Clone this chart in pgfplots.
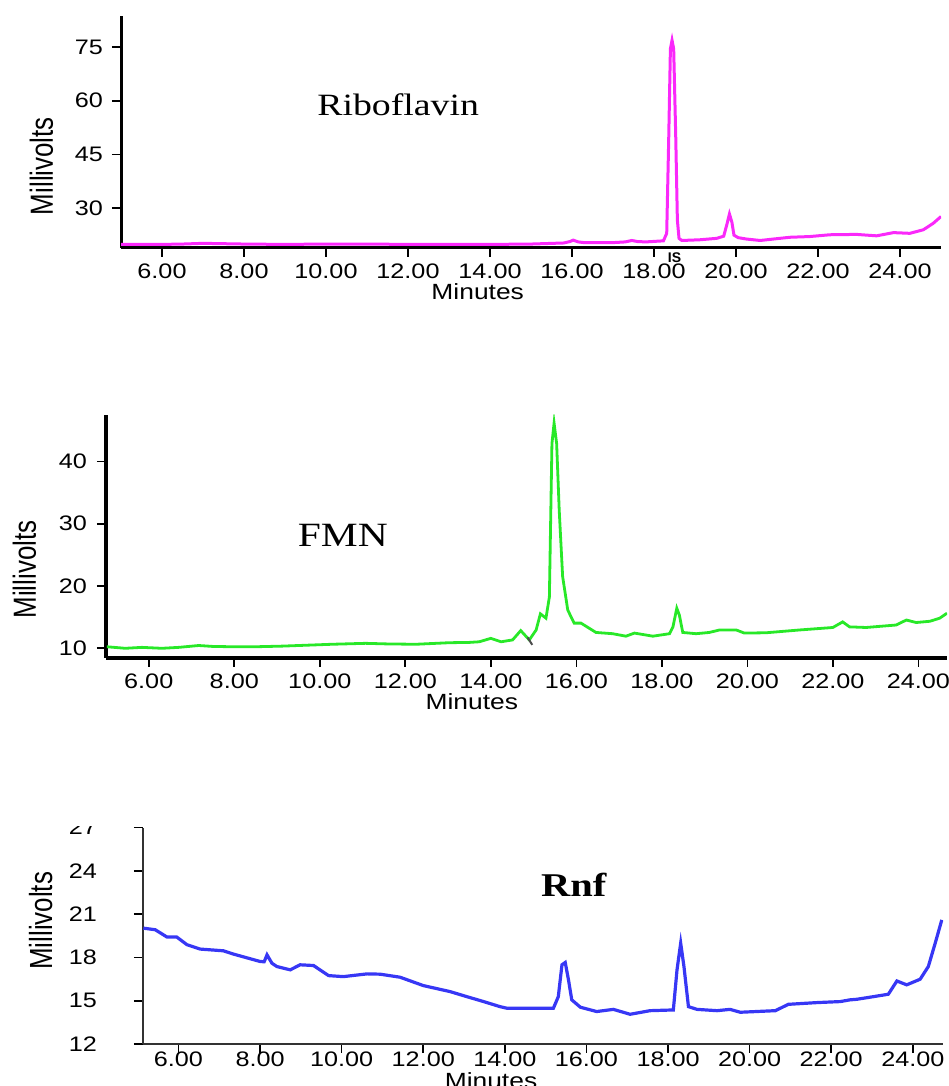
\documentclass[border=0pt]{standalone}
\usepackage{fontspec}
\setmainfont{Liberation Sans}
\newfontfamily\tickfont{Liberation Sans}[FakeStretch=1.2]
\newfontfamily\vlabfont{Liberation Sans}[FakeStretch=0.81]
\newfontfamily\titlefont{Liberation Serif}[FakeStretch=1.22]
\usepackage{pgfplots}
\pgfplotsset{compat=1.18}

\definecolor{ribo}{RGB}{250,40,250}
\definecolor{fmn}{RGB}{40,232,40}
\definecolor{rnf}{RGB}{55,55,245}

% one chromatogram panel: left and bottom axis lines only
\pgfplotsset{
  chrom/.style={
    scale only axis, anchor=south west, clip mode=individual,
    axis x line*=bottom, axis y line*=left,
    axis line style={-, line width=1.5pt, black},
    tick align=outside, major tick length=4.5pt,
    every tick/.style={black, line width=0.8pt},
    xtick={6,8,...,24},
    /pgf/number format/assume math mode=true,
    tick label style={font=\tickfont\fontsize{10.5}{12}\selectfont},
    xticklabel style={/pgf/number format/fixed, /pgf/number format/fixed zerofill,
      /pgf/number format/precision=2},
    xlabel={Minutes},
    xlabel style={font=\tickfont\fontsize{11}{12}\selectfont,
      at={(axis description cs:0.435,0)}, anchor=north, inner sep=0pt},
    ylabel={Millivolts},
    ylabel style={font=\vlabfont\fontsize{16}{18}\selectfont, anchor=center, inner sep=0pt},
  },
}

\begin{document}
\begin{tikzpicture}

% Riboflavin
\begin{axis}[chrom, at={(60.5pt,419pt)}, width=410pt, height=116pt,
  xmin=5, xmax=25, ymin=18.8, ymax=83.7, ytick={30,45,60,75},
  yticklabel style={xshift=-1pt},
  xlabel style={yshift=-17.5pt},
  ylabel style={at={(axis description cs:-0.097,0.353)}}]
\addplot[ribo, line width=1.5pt] coordinates {
(5,19.8)(5.5,19.8)(6,19.8)(6.5,19.9)(7,20.1)(7.5,20.0)(8,19.9)(9,19.8)(10,19.9)
(11,19.9)(12,19.8)(13,19.8)(14,19.8)(15,19.9)(15.8,20.2)(15.95,20.6)(16.03,21.0)
(16.15,20.5)(16.3,20.3)(17,20.3)(17.3,20.5)(17.46,20.9)(17.6,20.6)(17.8,20.5)
(18.23,20.8)(18.31,22.9)(18.36,50)(18.40,74.5)(18.44,76.9)(18.48,74.5)(18.53,50)(18.57,26.6)
(18.61,21.5)(18.68,20.9)(19.12,21.1)(19.53,21.5)(19.7,22.1)(19.78,25.5)(19.84,28.3)
(19.9,26)(19.95,22.4)(20.05,21.7)(20.26,21.3)(20.59,20.9)(21.07,21.5)(21.32,21.8)
(21.8,22.0)(22.29,22.5)(22.94,22.6)(23.43,22.2)(23.84,23.1)(24.24,22.9)(24.57,23.9)
(24.81,25.7)(25,27.6)};
\node[anchor=base, font=\titlefont\fontsize{15.5}{17}\selectfont] at (axis cs:11.76,56) {Riboflavin};
\node[anchor=north, font=\bfseries\fontsize{7}{8}\selectfont, inner sep=0pt] at (axis cs:18.5,17.6) {IS};
\end{axis}

% FMN
\begin{axis}[chrom, at={(53pt,214pt)}, width=420.5pt, height=121.5pt,
  axis line style={line width=1.8pt},
  xmin=5, xmax=24.67, ymin=8.39, ymax=47.5, ytick={10,20,30,40},
  yticklabel style={xshift=-1.5pt},
  xlabel style={yshift=-17.5pt},
  ylabel style={at={(axis description cs:-0.097,0.364)}}]
\addplot[fmn, line width=1.4pt] coordinates {
(5.02,10.2)(5.45,9.95)(5.84,10.1)(6.31,9.95)(6.7,10.1)(7.17,10.4)(7.5,10.25)(7.95,10.2)
(8.5,10.2)(9.12,10.3)(9.7,10.45)(10.29,10.6)(11.07,10.75)(11.6,10.65)(12.25,10.6)
(13.03,10.85)(13.5,10.9)(13.73,11.0)(14.0,11.55)(14.24,11.0)(14.51,11.3)(14.7,12.8)
(14.9,11.3)(15.06,12.9)(15.16,15.5)(15.29,14.8)(15.37,18.2)(15.43,42.9)(15.48,46.2)
(15.54,42.9)(15.6,32.2)(15.68,21.5)(15.8,16.1)(15.95,14.0)(16.11,14.0)(16.46,12.5)
(16.85,12.3)(17.16,11.9)(17.36,12.4)(17.79,11.9)(18.18,12.3)(18.26,13.4)(18.35,16.4)
(18.41,15.3)(18.49,12.5)(18.8,12.3)(19.11,12.5)(19.35,12.9)(19.74,12.9)(19.93,12.4)
(20.44,12.45)(21.22,12.9)(22.0,13.3)(22.23,14.2)(22.39,13.4)(22.78,13.3)(23.48,13.7)
(23.72,14.5)(23.95,14.1)(24.27,14.3)(24.5,14.8)(24.67,15.6)};
\draw[black!70, line width=1pt] (axis cs:14.86,11.7) -- (axis cs:14.97,10.5);
\node[anchor=base, font=\titlefont\fontsize{17}{19}\selectfont] at (axis cs:10.54,26.3) {FMN};
\end{axis}

% Rnf
\begin{axis}[chrom, at={(71.5pt,21pt)}, width=400pt, height=108.2pt,
  axis line style={line width=1.1pt, black!80},
  xmin=5.13, xmax=24.74, ymin=12, ymax=27, ytick={12,15,...,27},
  yticklabel style={xshift=-15pt},
  xticklabel style={yshift=4pt},
  xlabel style={yshift=-14pt},
  ylabel style={at={(axis description cs:-0.128,0.569)}}]
\addplot[rnf, line width=1.6pt] coordinates {
(5.14,20.03)(5.43,19.92)(5.72,19.41)(5.96,19.41)(6.21,18.88)(6.53,18.58)(7.1,18.46)
(7.35,18.23)(8.0,17.72)(8.1,17.7)(8.17,18.18)(8.29,17.6)(8.41,17.37)(8.74,17.14)
(8.98,17.49)(9.31,17.44)(9.68,16.74)(10.04,16.67)(10.62,16.86)(10.94,16.84)(11.43,16.63)
(12.0,16.05)(12.66,15.63)(13.07,15.28)(13.48,14.94)(13.88,14.59)(14.05,14.48)(15.11,14.48)
(15.19,14.48)(15.31,15.28)(15.4,17.49)(15.48,17.65)(15.56,16.44)(15.64,15.06)(15.85,14.55)
(16.25,14.25)(16.66,14.4)(17.07,14.06)(17.56,14.31)(18.13,14.36)(18.22,17.14)(18.31,18.99)
(18.39,17.37)(18.5,14.59)(18.71,14.4)(19.2,14.31)(19.52,14.4)(19.77,14.2)(20.63,14.31)
(20.95,14.75)(21.65,14.87)(22.22,14.94)(22.46,15.06)(22.63,15.1)(23.03,15.28)(23.4,15.45)
(23.61,16.37)(23.85,16.1)(24.18,16.49)(24.38,17.37)(24.55,19.0)(24.71,20.6)};
\node[anchor=base, font=\titlefont\bfseries\fontsize{16.6}{18}\selectfont] at (axis cs:15.69,22.19) {Rnf};
\end{axis}

% the top of the panel's last y label is hidden in the reference
\fill[white] (25pt,130pt) rectangle (69pt,143pt);

\pgfresetboundingbox
\path[use as bounding box] (0,0) rectangle (474pt,543pt);
\end{tikzpicture}
\end{document}
